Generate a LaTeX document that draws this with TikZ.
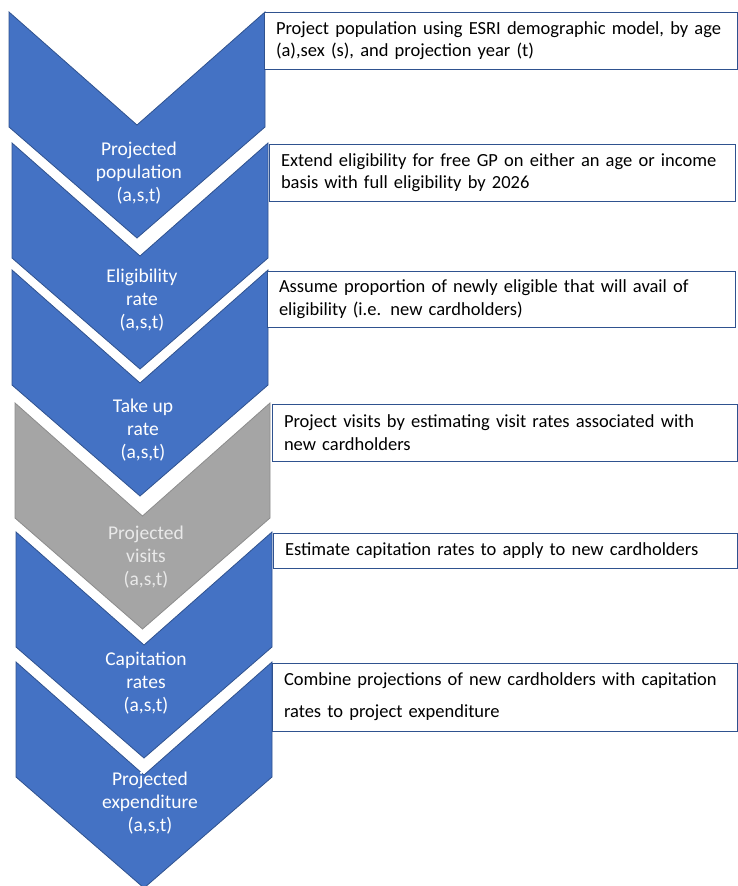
\documentclass[tikz,border=0pt]{standalone}
\usepackage{fontspec}
\setmainfont{Carlito}
\usepackage{xcolor}
\usepackage{tikz}
\usetikzlibrary{positioning}
\definecolor{chevblue}{HTML}{4472C4}
\definecolor{chevedge}{HTML}{2F528F}
\definecolor{chevgray}{HTML}{A5A5A5}
\definecolor{grayedge}{HTML}{8C8C8C}
\definecolor{graytext}{HTML}{E9E9E9}
\newcommand{\flowchev}[4]{%
  \pgfmathsetmacro{\cx}{(#2+#3)/2}
  \draw[#1] (#2,#4) -- (\cx,#4+113) -- (#3,#4) -- (#3,#4+115)
    -- (\cx,#4+226) -- (#2,#4+115) -- cycle;}

\begin{document}
\begin{tikzpicture}[x=1pt, y=-1pt,
    bluechev/.style={fill=chevblue, draw=chevedge, line width=0.8pt},
    graychev/.style={fill=chevgray, draw=grayedge, line width=0.8pt},
    chevlabel/.style={text=white, align=center, font=\fontsize{19.5}{23}\selectfont, inner sep=0pt},
    notebox/.style={draw=chevedge, line width=0.9pt, fill=white, anchor=north west,
      align=left, inner xsep=12pt, inner ysep=0pt, outer sep=0pt,
      font=\fontsize{18.5}{22.5}\selectfont}]
	%% Bounding box
	\useasboundingbox (0,0) rectangle (738,886);
	
	%% Chevrons
	\flowchev{bluechev}{9}{265}{12}
	\flowchev{bluechev}{12}{268}{143}
	\flowchev{bluechev}{12}{268}{270}
	\flowchev{graychev}{15}{270}{403}
	\flowchev{bluechev}{16}{272}{532}
	\flowchev{bluechev}{16}{272}{662}
	
	%% Labels of the chevrons
	\node [chevlabel] (pop) at (139,173) {Projected\\population\\(a,s,t)};
	\node [chevlabel] (elig) at (142,300) {Eligibility\\rate\\(a,s,t)};
	\node [chevlabel] (take) at (143,430) {Take up\\rate\\(a,s,t)};
	\node [chevlabel, text=graytext] (visits) at (146,557) {Projected\\visits\\(a,s,t)};
	\node [chevlabel] (capit) at (146,683) {Capitation\\rates\\(a,s,t)};
	\node [chevlabel] (expend) at (150,803) {Projected\\expenditure\\(a,s,t)};
	
	%% Notes on the right
	\node [notebox, minimum width=473pt, minimum height=57pt, text width=449pt] (popnote) at (264,12)
	{\mbox{Project population using ESRI demographic model, by age}\\(a),sex (s), and projection year (t)};
	\node [notebox, minimum width=466pt, minimum height=57pt, text width=442pt] (elignote) at (269,144)
	{\mbox{Extend eligibility for free GP on either an age or income}\\basis with full eligibility by 2026};
	\node [notebox, minimum width=468pt, minimum height=56pt, text width=444pt] (takenote) at (267,271)
	{\mbox{Assume proportion of newly eligible that will avail of}\\eligibility (i.e. new cardholders)};
	\node [notebox, minimum width=465pt, minimum height=57pt, text width=441pt] (visitnote) at (272,404)
	{\mbox{Project visits by estimating visit rates associated with}\\new cardholders};
	\node [notebox, minimum width=464pt, minimum height=35pt, text width=440pt] (capitnote) at (273,533)
	{Estimate capitation rates to apply to new cardholders};
	\node [notebox, minimum width=465pt, minimum height=68pt, text width=441pt,
	  font=\fontsize{18.5}{32}\selectfont] (expendnote) at (272,663)
	{\mbox{Combine projections of new cardholders with capitation}\\rates to project expenditure};
\end{tikzpicture}
\end{document}
